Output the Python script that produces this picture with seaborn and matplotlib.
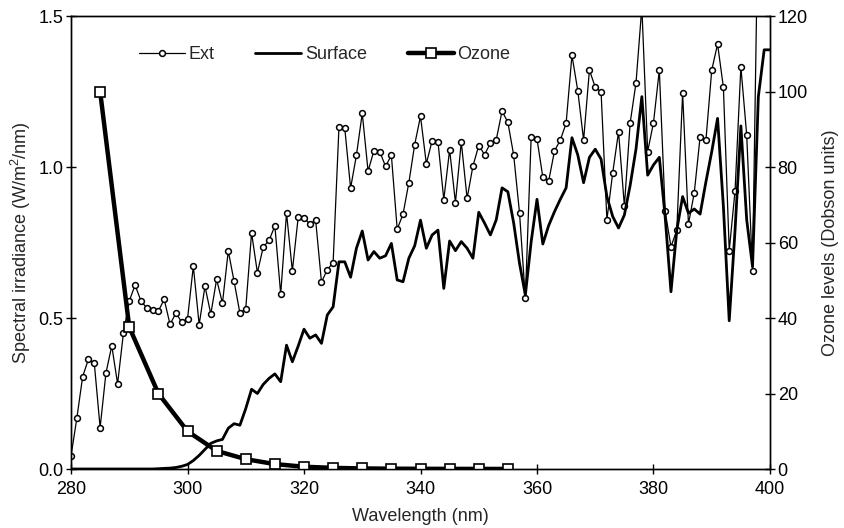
import numpy as np
import pandas as pd
import matplotlib
matplotlib.use("Agg")
import matplotlib.pyplot as plt
import seaborn as sns

ext_wl = list(range(280, 399))
ext_val = [0.043, 0.168, 0.306, 0.364, 0.350, 0.137, 0.318, 0.408, 0.282, 0.450,
           0.556, 0.609, 0.557, 0.533, 0.527, 0.523, 0.562, 0.479, 0.516, 0.487,
           0.496, 0.672, 0.478, 0.605, 0.513, 0.628, 0.549, 0.722, 0.621, 0.516,
           0.531, 0.782, 0.650, 0.735, 0.757, 0.805, 0.579, 0.848, 0.656, 0.833,
           0.832, 0.811, 0.824, 0.619, 0.660, 0.683, 1.131, 1.128, 0.930, 1.039,
           1.178, 0.986, 1.054, 1.051, 1.002, 1.039, 0.794, 0.844, 0.948, 1.074,
           1.168, 1.011, 1.087, 1.084, 0.892, 1.057, 0.882, 1.083, 0.896, 1.003,
           1.071, 1.041, 1.079, 1.090, 1.185, 1.148, 1.039, 0.848, 0.565, 1.100,
           1.093, 0.966, 0.953, 1.053, 1.089, 1.145, 1.370, 1.253, 1.089, 1.321,
           1.264, 1.249, 0.825, 0.981, 1.117, 0.871, 1.147, 1.279, 1.530, 1.051,
           1.147, 1.321, 0.854, 0.736, 0.791, 1.245, 0.811, 0.915, 1.100, 1.089,
           1.321, 1.407, 1.264, 0.723, 0.921, 1.332, 1.106, 0.657, 1.900]

surf_wl = list(range(280, 401))
surf_val = [0, 0, 0, 0, 0, 0, 0, 0, 0, 0,
            0, 0, 0, 0, 0, 0.001, 0.002, 0.003, 0.005, 0.009,
            0.015, 0.028, 0.045, 0.065, 0.085, 0.093, 0.098, 0.135, 0.150, 0.145,
            0.200, 0.264, 0.250, 0.280, 0.300, 0.315, 0.289, 0.410, 0.355, 0.407,
            0.463, 0.433, 0.444, 0.416, 0.510, 0.537, 0.686, 0.686, 0.635, 0.731,
            0.788, 0.692, 0.720, 0.698, 0.706, 0.747, 0.626, 0.620, 0.698, 0.739,
            0.824, 0.731, 0.775, 0.791, 0.598, 0.755, 0.723, 0.753, 0.731, 0.698,
            0.850, 0.814, 0.775, 0.825, 0.931, 0.918, 0.814, 0.681, 0.576, 0.753,
            0.893, 0.745, 0.806, 0.852, 0.893, 0.931, 1.097, 1.040, 0.948, 1.032,
            1.059, 1.026, 0.902, 0.836, 0.798, 0.841, 0.940, 1.060, 1.233, 0.973,
            1.007, 1.032, 0.835, 0.587, 0.791, 0.902, 0.847, 0.861, 0.844, 0.951,
            1.051, 1.161, 0.869, 0.491, 0.791, 1.136, 0.825, 0.670, 1.233, 1.388,
            1.388]

ozone_wl = [285, 290, 295, 300, 305, 310, 315, 320, 325, 330, 335, 340, 345, 350, 355]
ozone_val = [100, 37.6, 20, 10, 4.8, 2.6, 1.3, 0.6, 0.3, 0.15, 0.08, 0.05, 0.03, 0.02, 0.01]

x_ticks = [280, 300, 320, 340, 360, 380, 400]
y_ticks = [0.0, 0.5, 1.0, 1.5]
y_tick_labels = ["0.0", "0.5", "1.0", "1.5"]
y2_ticks = [0, 20, 40, 60, 80, 100, 120]

FS = 13

sns.set_theme(style="white")
plt.rcParams['font.family'] = ['Liberation Sans', 'DejaVu Sans']
plt.rcParams['font.size'] = FS
plt.rcParams['mathtext.fontset'] = 'custom'
plt.rcParams['mathtext.rm'] = 'Liberation Sans'

fig = plt.figure(figsize=(8.45, 5.28), dpi=100)
ax = fig.add_axes([71/845, 1-469/528, (770-71)/845, (469-16)/528])
ax2 = ax.twinx()

ext_df = pd.DataFrame({"wl": ext_wl, "val": ext_val})
surf_df = pd.DataFrame({"wl": surf_wl, "val": surf_val})
oz_df = pd.DataFrame({"wl": ozone_wl, "val": ozone_val})

sns.lineplot(data=ext_df, x="wl", y="val", ax=ax, color="black", linewidth=0.9,
             marker="o", markersize=4.2, markerfacecolor="white",
             markeredgecolor="black", markeredgewidth=1.1, label="Ext", legend=False)
sns.lineplot(data=surf_df, x="wl", y="val", ax=ax, color="black", linewidth=2.0,
             label="Surface", legend=False)
sns.lineplot(data=oz_df, x="wl", y="val", ax=ax2, color="black", linewidth=3.2,
             marker="s", markersize=6.5, markerfacecolor="white",
             markeredgecolor="black", markeredgewidth=1.2, label="Ozone", legend=False)

ax.set_xlim(280, 400)
ax.set_ylim(0, 1.5)
ax2.set_ylim(0, 120)
ax.set_xticks(x_ticks)
ax.set_xticklabels([str(v) for v in x_ticks])
ax.set_yticks(y_ticks)
ax.set_yticklabels(y_tick_labels)
ax2.set_yticks(y2_ticks)
ax2.set_yticklabels([str(v) for v in y2_ticks])

ax.set_xlabel("Wavelength (nm)", fontsize=FS, labelpad=7)
ax.set_ylabel("Spectral irradiance (W/m$^2$/nm)", fontsize=FS, labelpad=4)
ax2.set_ylabel("Ozone levels (Dobson units)", fontsize=FS, labelpad=10)

for a in (ax, ax2):
    for s in a.spines.values():
        s.set_color("black")
        s.set_linewidth(1.0)
ax.tick_params(axis="y", direction="inout", length=7, width=1, colors="black",
               labelsize=FS, pad=2, left=True)
ax.tick_params(axis="x", direction="inout", length=7, width=1, colors="black",
               labelsize=FS, pad=5.5, bottom=True)
ax2.tick_params(axis="y", direction="inout", length=7, width=1, colors="black",
                labelsize=FS, pad=2, right=True)
ax.grid(False)
ax2.grid(False)

handles = ax.get_lines()[:2] + ax2.get_lines()[:1]
leg = ax2.legend(handles, ["Ext", "Surface", "Ozone"], loc="center left",
                 bbox_to_anchor=(0.074, 0.914), ncol=3, frameon=False,
                 handlelength=2.55, columnspacing=2.25, handletextpad=0.2,
                 fontsize=FS)

fig.savefig("out.png", dpi=100)
